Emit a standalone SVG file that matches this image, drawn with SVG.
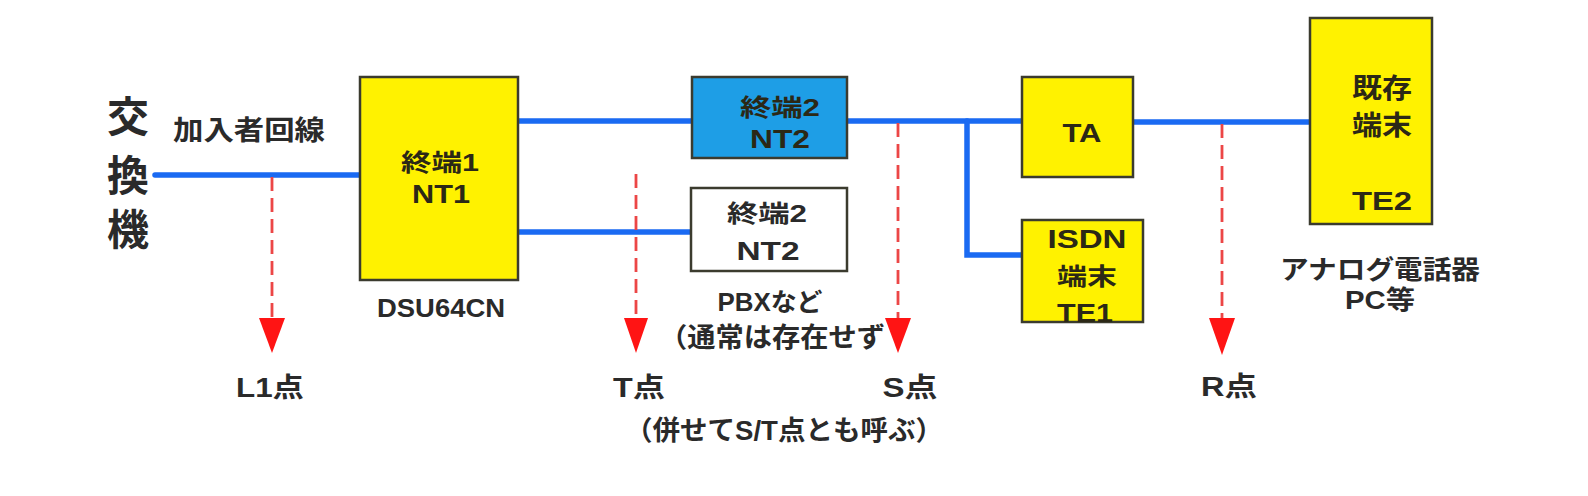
<svg xmlns="http://www.w3.org/2000/svg" width="1588" height="496" viewBox="0 0 1588 496">
<defs>
<style>
.t{font-family:"Liberation Sans","Noto Sans CJK JP",sans-serif;fill:#2a2a2a;font-weight:bold;text-anchor:middle}
.bt{fill:#2b2816}
.box{stroke:#3b3b2e;stroke-width:2.5}
.y{fill:#fff200}
.bl{fill:none;stroke:#1a6af2;stroke-width:5.5;stroke-linecap:round}
.rd{fill:none;stroke:#ec4646;stroke-width:2.8;stroke-dasharray:14 7}
.ah{fill:#ff1414}
</style>
</defs>
<rect width="1588" height="496" fill="#ffffff"/>
<g id="connectors">
<path class="bl" d="M155 175H360"/>
<path class="bl" d="M518 121H692"/>
<path class="bl" d="M518 232H692"/>
<path class="bl" d="M847 121H1022"/>
<path class="bl" d="M967 121V255H1022"/>
<path class="bl" d="M1133 122H1310"/>
<path class="rd" d="M272 177V320"/>
<path class="rd" d="M636 174V320"/>
<path class="rd" d="M898 123V320"/>
<path class="rd" d="M1222 124V320"/>
<polygon class="ah" points="259,318 285,318 272,353"/>
<polygon class="ah" points="624,318 648,318 636,353"/>
<polygon class="ah" points="885,318 911,318 898,353"/>
<polygon class="ah" points="1209,318 1235,318 1222,355"/>
</g>
<g id="exchange">
<text class="t" x="128" y="132" font-size="42" font-weight="normal">交</text>
<text class="t" x="128" y="191" font-size="42" font-weight="normal">換</text>
<text class="t" x="128" y="245" font-size="42" font-weight="normal">機</text>
<text class="t" x="249" y="140" font-size="27" textLength="152" lengthAdjust="spacingAndGlyphs">加入者回線</text>
</g>
<g id="nt1">
<rect class="box y" x="360" y="77" width="158" height="203"/>
<text class="t bt" x="440" y="171" font-size="24" textLength="78" lengthAdjust="spacingAndGlyphs">終端1</text>
<text class="t bt" x="441" y="203" font-size="25" textLength="58" lengthAdjust="spacingAndGlyphs">NT1</text>
<text class="t" x="441" y="317" font-size="26" textLength="128" lengthAdjust="spacingAndGlyphs">DSU64CN</text>
</g>
<g id="nt2a">
<rect class="box" fill="#1e9ee6" x="692" y="77" width="155" height="81"/>
<text class="t bt" x="780" y="116" font-size="24" textLength="80" lengthAdjust="spacingAndGlyphs">終端2</text>
<text class="t bt" x="780" y="148" font-size="25" textLength="60" lengthAdjust="spacingAndGlyphs">NT2</text>
</g>
<g id="nt2b">
<rect class="box" fill="#ffffff" x="691" y="188" width="156" height="83"/>
<text class="t" x="767" y="222" font-size="24" textLength="80" lengthAdjust="spacingAndGlyphs">終端2</text>
<text class="t" x="768" y="260" font-size="25" textLength="63" lengthAdjust="spacingAndGlyphs">NT2</text>
<text class="t" x="770" y="311" font-size="25" textLength="105" lengthAdjust="spacingAndGlyphs">PBXなど</text>
<text class="t" x="772" y="347" font-size="27" textLength="226" lengthAdjust="spacingAndGlyphs">（通常は存在せず</text>
</g>
<g id="ta">
<rect class="box y" x="1022" y="77" width="111" height="100"/>
<text class="t bt" x="1082" y="142" font-size="26" textLength="39" lengthAdjust="spacingAndGlyphs">TA</text>
</g>
<g id="te1">
<rect class="box y" x="1022" y="220" width="121" height="102"/>
<text class="t bt" x="1087" y="248" font-size="25" textLength="79" lengthAdjust="spacingAndGlyphs">ISDN</text>
<text class="t bt" x="1087" y="285" font-size="24" textLength="60" lengthAdjust="spacingAndGlyphs">端末</text>
<text class="t bt" x="1085" y="322" font-size="25" textLength="56" lengthAdjust="spacingAndGlyphs">TE1</text>
</g>
<g id="te2">
<rect class="box y" x="1310" y="18" width="122" height="206"/>
<text class="t bt" x="1382" y="98" font-size="27" textLength="60" lengthAdjust="spacingAndGlyphs">既存</text>
<text class="t bt" x="1382" y="135" font-size="27" textLength="60" lengthAdjust="spacingAndGlyphs">端末</text>
<text class="t bt" x="1382" y="210" font-size="26" textLength="60" lengthAdjust="spacingAndGlyphs">TE2</text>
<text class="t" x="1380" y="279" font-size="26" textLength="200" lengthAdjust="spacingAndGlyphs">アナログ電話器</text>
<text class="t" x="1380" y="309" font-size="26" textLength="70" lengthAdjust="spacingAndGlyphs">PC等</text>
</g>
<g id="points">
<text class="t" x="270" y="397" font-size="27" textLength="68" lengthAdjust="spacingAndGlyphs">L1点</text>
<text class="t" x="639" y="397" font-size="27" textLength="52" lengthAdjust="spacingAndGlyphs">T点</text>
<text class="t" x="910" y="397" font-size="27" textLength="55" lengthAdjust="spacingAndGlyphs">S点</text>
<text class="t" x="1229" y="396" font-size="27" textLength="56" lengthAdjust="spacingAndGlyphs">R点</text>
<text class="t" x="784" y="440" font-size="27" textLength="318" lengthAdjust="spacingAndGlyphs">（併せてS/T点とも呼ぶ）</text>
</g>
</svg>
